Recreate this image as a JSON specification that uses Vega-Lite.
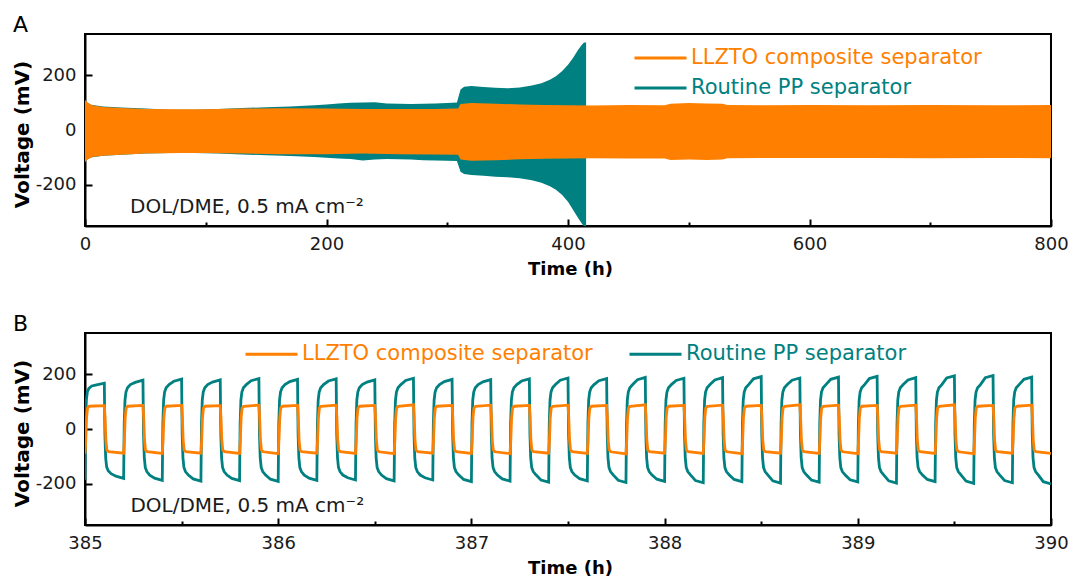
{
"$schema": "https://vega.github.io/schema/vega-lite/v6.json",
"background": "white",
"padding": {"left": 11, "top": 13, "right": 20, "bottom": 5},
"config": {
  "font": "DejaVu Sans",
  "view": {"stroke": "black", "strokeWidth": 2},
  "axis": {"grid": false, "domainColor": "black", "domainWidth": 2, "tickColor": "black", "tickWidth": 2, "labelFont": "DejaVu Sans", "labelFontSize": 18, "labelColor": "#1a1a1a", "titleFont": "DejaVu Sans", "titleFontSize": 18, "titleFontWeight": "bold", "titleColor": "black", "labelFlush": false, "labelOverlap": false, "zindex": 1}
},
"datasets": {
  "aP": [{"t":0,"hi":105,"lo":-112},{"t":5,"hi":92,"lo":-100},{"t":15,"hi":86,"lo":-94},{"t":30,"hi":82,"lo":-90},{"t":50,"hi":78,"lo":-86},{"t":70,"hi":74,"lo":-84},{"t":90,"hi":74,"lo":-84},{"t":110,"hi":77,"lo":-86},{"t":130,"hi":80,"lo":-89},{"t":150,"hi":83,"lo":-92},{"t":170,"hi":86,"lo":-95},{"t":190,"hi":90,"lo":-98},{"t":200,"hi":93,"lo":-101},{"t":210,"hi":97,"lo":-104},{"t":220,"hi":99,"lo":-106},{"t":230,"hi":100,"lo":-111},{"t":240,"hi":101,"lo":-108},{"t":250,"hi":97,"lo":-106},{"t":260,"hi":96,"lo":-107},{"t":270,"hi":95,"lo":-108},{"t":280,"hi":96,"lo":-110},{"t":290,"hi":97,"lo":-111},{"t":300,"hi":98,"lo":-112},{"t":308,"hi":100,"lo":-113},{"t":311,"hi":148,"lo":-152},{"t":314,"hi":158,"lo":-160},{"t":320,"hi":160,"lo":-164},{"t":330,"hi":157,"lo":-167},{"t":340,"hi":154,"lo":-170},{"t":350,"hi":152,"lo":-172},{"t":360,"hi":155,"lo":-176},{"t":370,"hi":162,"lo":-183},{"t":378,"hi":170,"lo":-192},{"t":385,"hi":183,"lo":-205},{"t":390,"hi":196,"lo":-218},{"t":395,"hi":214,"lo":-236},{"t":400,"hi":238,"lo":-262},{"t":404,"hi":262,"lo":-290},{"t":408,"hi":290,"lo":-318},{"t":411,"hi":308,"lo":-338},{"t":413,"hi":318,"lo":-350},{"t":415,"hi":320,"lo":-350}],
  "aL": [{"t":0,"hi":110,"lo":-118},{"t":2,"hi":100,"lo":-108},{"t":6,"hi":90,"lo":-98},{"t":15,"hi":84,"lo":-94},{"t":30,"hi":80,"lo":-90},{"t":50,"hi":77,"lo":-86},{"t":80,"hi":76,"lo":-84},{"t":100,"hi":76,"lo":-84},{"t":130,"hi":78,"lo":-86},{"t":160,"hi":79,"lo":-88},{"t":200,"hi":78,"lo":-88},{"t":230,"hi":77,"lo":-86},{"t":260,"hi":77,"lo":-88},{"t":290,"hi":77,"lo":-89},{"t":309,"hi":78,"lo":-90},{"t":311,"hi":95,"lo":-108},{"t":320,"hi":98,"lo":-112},{"t":340,"hi":96,"lo":-110},{"t":360,"hi":93,"lo":-107},{"t":380,"hi":91,"lo":-105},{"t":400,"hi":90,"lo":-104},{"t":420,"hi":89,"lo":-103},{"t":450,"hi":91,"lo":-104},{"t":480,"hi":90,"lo":-104},{"t":485,"hi":96,"lo":-109},{"t":500,"hi":98,"lo":-108},{"t":515,"hi":97,"lo":-109},{"t":528,"hi":96,"lo":-108},{"t":532,"hi":91,"lo":-103},{"t":560,"hi":90,"lo":-102},{"t":600,"hi":91,"lo":-102},{"t":650,"hi":90,"lo":-102},{"t":700,"hi":91,"lo":-103},{"t":750,"hi":90,"lo":-102},{"t":800,"hi":91,"lo":-103}],
  "bP": [
{"t":385,"v":-185},{"t":385.003,"v":20},{"t":385.007,"v":105},{"t":385.012,"v":135},{"t":385.02,"v":148},{"t":385.035,"v":157},{"t":385.06,"v":161},{"t":385.1,"v":167},{"t":385.103,"v":-20},{"t":385.107,"v":-105},{"t":385.112,"v":-138},{"t":385.12,"v":-152},{"t":385.135,"v":-163},{"t":385.16,"v":-172},
{"t":385.2,"v":-180},{"t":385.203,"v":20},{"t":385.207,"v":105},{"t":385.212,"v":135},{"t":385.22,"v":150},{"t":385.235,"v":162},{"t":385.26,"v":170},{"t":385.3,"v":178},{"t":385.303,"v":-20},{"t":385.307,"v":-105},{"t":385.312,"v":-140},{"t":385.32,"v":-155},{"t":385.335,"v":-168},{"t":385.36,"v":-179},
{"t":385.4,"v":-187},{"t":385.403,"v":20},{"t":385.407,"v":105},{"t":385.412,"v":135},{"t":385.42,"v":150},{"t":385.435,"v":162},{"t":385.46,"v":174},{"t":385.5,"v":182},{"t":385.503,"v":-20},{"t":385.507,"v":-105},{"t":385.512,"v":-140},{"t":385.52,"v":-155},{"t":385.535,"v":-168},{"t":385.56,"v":-182},
{"t":385.6,"v":-190},{"t":385.603,"v":20},{"t":385.607,"v":105},{"t":385.612,"v":135},{"t":385.62,"v":150},{"t":385.635,"v":162},{"t":385.66,"v":171},{"t":385.7,"v":179},{"t":385.703,"v":-20},{"t":385.707,"v":-105},{"t":385.712,"v":-140},{"t":385.72,"v":-155},{"t":385.735,"v":-168},{"t":385.76,"v":-180},
{"t":385.8,"v":-188},{"t":385.803,"v":20},{"t":385.807,"v":105},{"t":385.812,"v":135},{"t":385.82,"v":150},{"t":385.835,"v":162},{"t":385.86,"v":176},{"t":385.9,"v":184},{"t":385.903,"v":-20},{"t":385.907,"v":-105},{"t":385.912,"v":-140},{"t":385.92,"v":-155},{"t":385.935,"v":-168},{"t":385.96,"v":-183},
{"t":386,"v":-191},{"t":386.003,"v":20},{"t":386.007,"v":105},{"t":386.012,"v":135},{"t":386.02,"v":150},{"t":386.035,"v":162},{"t":386.06,"v":173},{"t":386.1,"v":181},{"t":386.103,"v":-20},{"t":386.107,"v":-105},{"t":386.112,"v":-140},{"t":386.12,"v":-155},{"t":386.135,"v":-168},{"t":386.16,"v":-179},
{"t":386.2,"v":-187},{"t":386.203,"v":20},{"t":386.207,"v":105},{"t":386.212,"v":135},{"t":386.22,"v":150},{"t":386.235,"v":162},{"t":386.26,"v":175},{"t":386.3,"v":183},{"t":386.303,"v":-20},{"t":386.307,"v":-105},{"t":386.312,"v":-140},{"t":386.32,"v":-155},{"t":386.335,"v":-168},{"t":386.36,"v":-178},
{"t":386.4,"v":-186},{"t":386.403,"v":20},{"t":386.407,"v":105},{"t":386.412,"v":135},{"t":386.42,"v":150},{"t":386.435,"v":162},{"t":386.46,"v":171},{"t":386.5,"v":179},{"t":386.503,"v":-20},{"t":386.507,"v":-105},{"t":386.512,"v":-140},{"t":386.52,"v":-155},{"t":386.535,"v":-168},{"t":386.56,"v":-181},
{"t":386.6,"v":-189},{"t":386.603,"v":20},{"t":386.607,"v":105},{"t":386.612,"v":135},{"t":386.62,"v":150},{"t":386.635,"v":162},{"t":386.66,"v":177},{"t":386.7,"v":185},{"t":386.703,"v":-20},{"t":386.707,"v":-105},{"t":386.712,"v":-140},{"t":386.72,"v":-155},{"t":386.735,"v":-168},{"t":386.76,"v":-178},
{"t":386.8,"v":-186},{"t":386.803,"v":20},{"t":386.807,"v":105},{"t":386.812,"v":135},{"t":386.82,"v":150},{"t":386.835,"v":162},{"t":386.86,"v":173},{"t":386.9,"v":181},{"t":386.903,"v":-20},{"t":386.907,"v":-105},{"t":386.912,"v":-140},{"t":386.92,"v":-155},{"t":386.935,"v":-168},{"t":386.96,"v":-184},
{"t":387,"v":-192},{"t":387.003,"v":20},{"t":387.007,"v":105},{"t":387.012,"v":135},{"t":387.02,"v":150},{"t":387.035,"v":162},{"t":387.06,"v":172},{"t":387.1,"v":180},{"t":387.103,"v":-20},{"t":387.107,"v":-105},{"t":387.112,"v":-140},{"t":387.12,"v":-155},{"t":387.135,"v":-168},{"t":387.16,"v":-182},
{"t":387.2,"v":-190},{"t":387.203,"v":20},{"t":387.207,"v":105},{"t":387.212,"v":135},{"t":387.22,"v":150},{"t":387.235,"v":162},{"t":387.26,"v":175},{"t":387.3,"v":183},{"t":387.303,"v":-20},{"t":387.307,"v":-105},{"t":387.312,"v":-140},{"t":387.32,"v":-155},{"t":387.335,"v":-168},{"t":387.36,"v":-186},
{"t":387.4,"v":-194},{"t":387.403,"v":20},{"t":387.407,"v":105},{"t":387.412,"v":135},{"t":387.42,"v":150},{"t":387.435,"v":162},{"t":387.46,"v":178},{"t":387.5,"v":186},{"t":387.503,"v":-20},{"t":387.507,"v":-105},{"t":387.512,"v":-140},{"t":387.52,"v":-155},{"t":387.535,"v":-168},{"t":387.56,"v":-181},
{"t":387.6,"v":-189},{"t":387.603,"v":20},{"t":387.607,"v":105},{"t":387.612,"v":135},{"t":387.62,"v":150},{"t":387.635,"v":162},{"t":387.66,"v":176},{"t":387.7,"v":184},{"t":387.703,"v":-20},{"t":387.707,"v":-105},{"t":387.712,"v":-140},{"t":387.72,"v":-155},{"t":387.735,"v":-168},{"t":387.76,"v":-187},
{"t":387.8,"v":-195},{"t":387.803,"v":20},{"t":387.807,"v":105},{"t":387.812,"v":135},{"t":387.82,"v":150},{"t":387.835,"v":162},{"t":387.86,"v":180},{"t":387.9,"v":188},{"t":387.903,"v":-20},{"t":387.907,"v":-105},{"t":387.912,"v":-140},{"t":387.92,"v":-155},{"t":387.935,"v":-168},{"t":387.96,"v":-183},
{"t":388,"v":-191},{"t":388.003,"v":20},{"t":388.007,"v":105},{"t":388.012,"v":135},{"t":388.02,"v":150},{"t":388.035,"v":162},{"t":388.06,"v":177},{"t":388.1,"v":185},{"t":388.103,"v":-20},{"t":388.107,"v":-105},{"t":388.112,"v":-140},{"t":388.12,"v":-155},{"t":388.135,"v":-168},{"t":388.16,"v":-188},
{"t":388.2,"v":-196},{"t":388.203,"v":20},{"t":388.207,"v":105},{"t":388.212,"v":135},{"t":388.22,"v":150},{"t":388.235,"v":162},{"t":388.26,"v":179},{"t":388.3,"v":187},{"t":388.303,"v":-20},{"t":388.307,"v":-105},{"t":388.312,"v":-140},{"t":388.32,"v":-155},{"t":388.335,"v":-168},{"t":388.36,"v":-184},
{"t":388.4,"v":-192},{"t":388.403,"v":20},{"t":388.407,"v":105},{"t":388.412,"v":135},{"t":388.42,"v":150},{"t":388.435,"v":162},{"t":388.46,"v":183},{"t":388.5,"v":191},{"t":388.503,"v":-20},{"t":388.507,"v":-105},{"t":388.512,"v":-140},{"t":388.52,"v":-155},{"t":388.535,"v":-168},{"t":388.56,"v":-189},
{"t":388.6,"v":-197},{"t":388.603,"v":20},{"t":388.607,"v":105},{"t":388.612,"v":135},{"t":388.62,"v":150},{"t":388.635,"v":162},{"t":388.66,"v":178},{"t":388.7,"v":186},{"t":388.703,"v":-20},{"t":388.707,"v":-105},{"t":388.712,"v":-140},{"t":388.72,"v":-155},{"t":388.735,"v":-168},{"t":388.76,"v":-186},
{"t":388.8,"v":-194},{"t":388.803,"v":20},{"t":388.807,"v":105},{"t":388.812,"v":135},{"t":388.82,"v":150},{"t":388.835,"v":162},{"t":388.86,"v":181},{"t":388.9,"v":189},{"t":388.903,"v":-20},{"t":388.907,"v":-105},{"t":388.912,"v":-140},{"t":388.92,"v":-155},{"t":388.935,"v":-168},{"t":388.96,"v":-185},
{"t":389,"v":-193},{"t":389.003,"v":20},{"t":389.007,"v":105},{"t":389.012,"v":135},{"t":389.02,"v":150},{"t":389.035,"v":162},{"t":389.06,"v":184},{"t":389.1,"v":192},{"t":389.103,"v":-20},{"t":389.107,"v":-105},{"t":389.112,"v":-140},{"t":389.12,"v":-155},{"t":389.135,"v":-168},{"t":389.16,"v":-189},
{"t":389.2,"v":-197},{"t":389.203,"v":20},{"t":389.207,"v":105},{"t":389.212,"v":135},{"t":389.22,"v":150},{"t":389.235,"v":162},{"t":389.26,"v":179},{"t":389.3,"v":187},{"t":389.303,"v":-20},{"t":389.307,"v":-105},{"t":389.312,"v":-140},{"t":389.32,"v":-155},{"t":389.335,"v":-168},{"t":389.36,"v":-184},
{"t":389.4,"v":-192},{"t":389.403,"v":20},{"t":389.407,"v":105},{"t":389.412,"v":135},{"t":389.42,"v":150},{"t":389.435,"v":162},{"t":389.46,"v":186},{"t":389.5,"v":194},{"t":389.503,"v":-20},{"t":389.507,"v":-105},{"t":389.512,"v":-140},{"t":389.52,"v":-155},{"t":389.535,"v":-168},{"t":389.56,"v":-190},
{"t":389.6,"v":-198},{"t":389.603,"v":20},{"t":389.607,"v":105},{"t":389.612,"v":135},{"t":389.62,"v":150},{"t":389.635,"v":162},{"t":389.66,"v":187},{"t":389.7,"v":195},{"t":389.703,"v":-20},{"t":389.707,"v":-105},{"t":389.712,"v":-140},{"t":389.72,"v":-155},{"t":389.735,"v":-168},{"t":389.76,"v":-188},
{"t":389.8,"v":-196},{"t":389.803,"v":20},{"t":389.807,"v":105},{"t":389.812,"v":135},{"t":389.82,"v":150},{"t":389.835,"v":162},{"t":389.86,"v":181},{"t":389.9,"v":189},{"t":389.903,"v":-20},{"t":389.907,"v":-105},{"t":389.912,"v":-140},{"t":389.92,"v":-155},{"t":389.935,"v":-168},{"t":389.96,"v":-192},
{"t":390,"v":-200}],
  "bL": [
{"t":385,"v":-90},{"t":385.004,"v":-40},{"t":385.008,"v":40},{"t":385.013,"v":76},{"t":385.022,"v":83},{"t":385.1,"v":85},{"t":385.104,"v":40},{"t":385.108,"v":-40},{"t":385.113,"v":-76},{"t":385.122,"v":-83},
{"t":385.2,"v":-88},{"t":385.204,"v":-40},{"t":385.208,"v":40},{"t":385.213,"v":76},{"t":385.222,"v":83},{"t":385.3,"v":86},{"t":385.304,"v":40},{"t":385.308,"v":-40},{"t":385.313,"v":-76},{"t":385.322,"v":-83},
{"t":385.4,"v":-89},{"t":385.404,"v":-40},{"t":385.408,"v":40},{"t":385.413,"v":76},{"t":385.422,"v":83},{"t":385.5,"v":86},{"t":385.504,"v":40},{"t":385.508,"v":-40},{"t":385.513,"v":-76},{"t":385.522,"v":-83},
{"t":385.6,"v":-88},{"t":385.604,"v":-40},{"t":385.608,"v":40},{"t":385.613,"v":76},{"t":385.622,"v":83},{"t":385.7,"v":85},{"t":385.704,"v":40},{"t":385.708,"v":-40},{"t":385.713,"v":-76},{"t":385.722,"v":-83},
{"t":385.8,"v":-89},{"t":385.804,"v":-40},{"t":385.808,"v":40},{"t":385.813,"v":76},{"t":385.822,"v":83},{"t":385.9,"v":87},{"t":385.904,"v":40},{"t":385.908,"v":-40},{"t":385.913,"v":-76},{"t":385.922,"v":-83},
{"t":386,"v":-90},{"t":386.004,"v":-40},{"t":386.008,"v":40},{"t":386.013,"v":76},{"t":386.022,"v":83},{"t":386.1,"v":86},{"t":386.104,"v":40},{"t":386.108,"v":-40},{"t":386.113,"v":-76},{"t":386.122,"v":-83},
{"t":386.2,"v":-88},{"t":386.204,"v":-40},{"t":386.208,"v":40},{"t":386.213,"v":76},{"t":386.222,"v":83},{"t":386.3,"v":87},{"t":386.304,"v":40},{"t":386.308,"v":-40},{"t":386.313,"v":-76},{"t":386.322,"v":-83},
{"t":386.4,"v":-89},{"t":386.404,"v":-40},{"t":386.408,"v":40},{"t":386.413,"v":76},{"t":386.422,"v":83},{"t":386.5,"v":86},{"t":386.504,"v":40},{"t":386.508,"v":-40},{"t":386.513,"v":-76},{"t":386.522,"v":-83},
{"t":386.6,"v":-90},{"t":386.604,"v":-40},{"t":386.608,"v":40},{"t":386.613,"v":76},{"t":386.622,"v":83},{"t":386.7,"v":88},{"t":386.704,"v":40},{"t":386.708,"v":-40},{"t":386.713,"v":-76},{"t":386.722,"v":-83},
{"t":386.8,"v":-88},{"t":386.804,"v":-40},{"t":386.808,"v":40},{"t":386.813,"v":76},{"t":386.822,"v":83},{"t":386.9,"v":86},{"t":386.904,"v":40},{"t":386.908,"v":-40},{"t":386.913,"v":-76},{"t":386.922,"v":-83},
{"t":387,"v":-89},{"t":387.004,"v":-40},{"t":387.008,"v":40},{"t":387.013,"v":76},{"t":387.022,"v":83},{"t":387.1,"v":87},{"t":387.104,"v":40},{"t":387.108,"v":-40},{"t":387.113,"v":-76},{"t":387.122,"v":-83},
{"t":387.2,"v":-90},{"t":387.204,"v":-40},{"t":387.208,"v":40},{"t":387.213,"v":76},{"t":387.222,"v":83},{"t":387.3,"v":86},{"t":387.304,"v":40},{"t":387.308,"v":-40},{"t":387.313,"v":-76},{"t":387.322,"v":-83},
{"t":387.4,"v":-88},{"t":387.404,"v":-40},{"t":387.408,"v":40},{"t":387.413,"v":76},{"t":387.422,"v":83},{"t":387.5,"v":87},{"t":387.504,"v":40},{"t":387.508,"v":-40},{"t":387.513,"v":-76},{"t":387.522,"v":-83},
{"t":387.6,"v":-89},{"t":387.604,"v":-40},{"t":387.608,"v":40},{"t":387.613,"v":76},{"t":387.622,"v":83},{"t":387.7,"v":86},{"t":387.704,"v":40},{"t":387.708,"v":-40},{"t":387.713,"v":-76},{"t":387.722,"v":-83},
{"t":387.8,"v":-91},{"t":387.804,"v":-40},{"t":387.808,"v":40},{"t":387.813,"v":76},{"t":387.822,"v":83},{"t":387.9,"v":88},{"t":387.904,"v":40},{"t":387.908,"v":-40},{"t":387.913,"v":-76},{"t":387.922,"v":-83},
{"t":388,"v":-88},{"t":388.004,"v":-40},{"t":388.008,"v":40},{"t":388.013,"v":76},{"t":388.022,"v":83},{"t":388.1,"v":86},{"t":388.104,"v":40},{"t":388.108,"v":-40},{"t":388.113,"v":-76},{"t":388.122,"v":-83},
{"t":388.2,"v":-89},{"t":388.204,"v":-40},{"t":388.208,"v":40},{"t":388.213,"v":76},{"t":388.222,"v":83},{"t":388.3,"v":87},{"t":388.304,"v":40},{"t":388.308,"v":-40},{"t":388.313,"v":-76},{"t":388.322,"v":-83},
{"t":388.4,"v":-90},{"t":388.404,"v":-40},{"t":388.408,"v":40},{"t":388.413,"v":76},{"t":388.422,"v":83},{"t":388.5,"v":86},{"t":388.504,"v":40},{"t":388.508,"v":-40},{"t":388.513,"v":-76},{"t":388.522,"v":-83},
{"t":388.6,"v":-88},{"t":388.604,"v":-40},{"t":388.608,"v":40},{"t":388.613,"v":76},{"t":388.622,"v":83},{"t":388.7,"v":88},{"t":388.704,"v":40},{"t":388.708,"v":-40},{"t":388.713,"v":-76},{"t":388.722,"v":-83},
{"t":388.8,"v":-89},{"t":388.804,"v":-40},{"t":388.808,"v":40},{"t":388.813,"v":76},{"t":388.822,"v":83},{"t":388.9,"v":87},{"t":388.904,"v":40},{"t":388.908,"v":-40},{"t":388.913,"v":-76},{"t":388.922,"v":-83},
{"t":389,"v":-90},{"t":389.004,"v":-40},{"t":389.008,"v":40},{"t":389.013,"v":76},{"t":389.022,"v":83},{"t":389.1,"v":86},{"t":389.104,"v":40},{"t":389.108,"v":-40},{"t":389.113,"v":-76},{"t":389.122,"v":-83},
{"t":389.2,"v":-88},{"t":389.204,"v":-40},{"t":389.208,"v":40},{"t":389.213,"v":76},{"t":389.222,"v":83},{"t":389.3,"v":87},{"t":389.304,"v":40},{"t":389.308,"v":-40},{"t":389.313,"v":-76},{"t":389.322,"v":-83},
{"t":389.4,"v":-89},{"t":389.404,"v":-40},{"t":389.408,"v":40},{"t":389.413,"v":76},{"t":389.422,"v":83},{"t":389.5,"v":88},{"t":389.504,"v":40},{"t":389.508,"v":-40},{"t":389.513,"v":-76},{"t":389.522,"v":-83},
{"t":389.6,"v":-90},{"t":389.604,"v":-40},{"t":389.608,"v":40},{"t":389.613,"v":76},{"t":389.622,"v":83},{"t":389.7,"v":86},{"t":389.704,"v":40},{"t":389.708,"v":-40},{"t":389.713,"v":-76},{"t":389.722,"v":-83},
{"t":389.8,"v":-88},{"t":389.804,"v":-40},{"t":389.808,"v":40},{"t":389.813,"v":76},{"t":389.822,"v":83},{"t":389.9,"v":87},{"t":389.904,"v":40},{"t":389.908,"v":-40},{"t":389.913,"v":-76},{"t":389.922,"v":-83},
{"t":390,"v":-89}]
},
"bounds": "flush",
"spacing": 107,
"resolve": {"scale": {"x": "independent", "y": "independent", "color": "independent"}, "legend": {"color": "independent"}},
"vconcat": [
 {
  "width": 966, "height": 192,
  "title": {"text": "A", "anchor": "start", "frame": "group", "dx": -72, "offset": -20, "baseline": "alphabetic", "fontSize": 22, "fontWeight": "normal", "font": "DejaVu Sans", "color": "black"},
  "layer": [
   {"data": {"name": "aP"}, "mark": {"type": "area", "opacity": 1, "clip": true},
    "encoding": {
     "x": {"field": "t", "type": "quantitative", "scale": {"domain": [0, 800], "nice": false, "zero": false},
       "axis": {"values": [0,100,200,300,400,500,600,700,800], "labelExpr": "datum.value % 200 == 0 ? '' + datum.value : ''", "tickSize": {"condition": {"test": "datum.value % 200 != 0", "value": -4}, "value": -7}, "labelPadding": 16, "title": "Time (h)", "titleX": 485, "titleY": 48, "titleBaseline": "alphabetic"}},
     "y": {"field": "hi", "type": "quantitative", "scale": {"domain": [-350, 350], "nice": false, "zero": false},
       "axis": {"values": [-200, 0, 200], "format": "d", "labelExpr": "replace(datum.label, '−', '-')", "tickSize": -7, "labelPadding": 16, "title": "Voltage (mV)", "titleFontSize": 20, "titleX": -57, "titleY": 100, "titleBaseline": "alphabetic", "titleAngle": 270}},
     "y2": {"field": "lo"},
     "color": {"datum": "P", "type": "nominal", "scale": {"domain": ["L", "P"], "range": ["#FF8000", "#008080"]},
       "legend": {"orient": "none", "legendX": 565, "legendY": 13.5, "direction": "vertical", "title": null, "padding": 0, "symbolType": "M-5.2,0H5.2", "symbolSize": 100, "symbolStrokeWidth": 3, "symbolStrokeColor": {"expr": "datum.value == 'L' ? '#FF8000' : '#008080'"}, "labelFont": "DejaVu Sans", "labelFontSize": 21, "labelOffset": 20, "labelLimit": 500, "rowPadding": 8, "labelExpr": "datum.value == 'L' ? 'LLZTO composite separator' : 'Routine PP separator'", "labelColor": {"expr": "datum.value == 'L' ? '#FF8000' : '#008080'"}}}
    }},
   {"data": {"name": "aL"}, "mark": {"type": "area", "opacity": 1, "clip": true},
    "encoding": {
     "x": {"field": "t", "type": "quantitative"},
     "y": {"field": "hi", "type": "quantitative"},
     "y2": {"field": "lo"},
     "color": {"datum": "L", "type": "nominal"}
    }},
   {"data": {"values": [{}]}, "mark": {"type": "text", "align": "left", "baseline": "alphabetic", "font": "DejaVu Sans", "fontSize": 20, "color": "#1a1a1a"},
    "encoding": {"x": {"datum": 37.3, "type": "quantitative"}, "y": {"datum": -303, "type": "quantitative"}, "text": {"value": "DOL/DME, 0.5 mA cm⁻²"}}}
  ]
 },
 {
  "width": 966, "height": 192,
  "title": {"text": "B", "anchor": "start", "frame": "group", "dx": -72, "offset": -20, "baseline": "alphabetic", "fontSize": 22, "fontWeight": "normal", "font": "DejaVu Sans", "color": "black"},
  "layer": [
   {"data": {"name": "bP"}, "mark": {"type": "line", "strokeWidth": 2.8, "clip": true},
    "encoding": {
     "x": {"field": "t", "type": "quantitative", "scale": {"domain": [385, 390], "nice": false, "zero": false},
       "axis": {"values": [385,385.5,386,386.5,387,387.5,388,388.5,389,389.5,390], "labelExpr": "datum.value % 1 == 0 ? '' + datum.value : ''", "tickSize": {"condition": {"test": "datum.value % 1 != 0", "value": -4}, "value": -7}, "labelPadding": 16, "title": "Time (h)", "titleX": 485, "titleY": 48, "titleBaseline": "alphabetic"}},
     "y": {"field": "v", "type": "quantitative", "scale": {"domain": [-350, 350], "nice": false, "zero": false},
       "axis": {"values": [-200, 0, 200], "format": "d", "labelExpr": "replace(datum.label, '−', '-')", "tickSize": -7, "labelPadding": 16, "title": "Voltage (mV)", "titleFontSize": 20, "titleX": -57, "titleY": 100, "titleBaseline": "alphabetic", "titleAngle": 270}},
     "color": {"datum": "P", "type": "nominal", "scale": {"domain": ["L", "P"], "range": ["#FF8000", "#008080"]},
       "legend": {"orient": "none", "legendX": 176, "legendY": 10.5, "direction": "horizontal", "title": null, "padding": 0, "symbolType": "M-5.2,0H5.2", "symbolSize": 100, "symbolStrokeWidth": 3, "symbolStrokeColor": {"expr": "datum.value == 'L' ? '#FF8000' : '#008080'"}, "labelFont": "DejaVu Sans", "labelFontSize": 21, "labelOffset": 20, "labelLimit": 500, "columnPadding": 30, "labelExpr": "datum.value == 'L' ? 'LLZTO composite separator' : 'Routine PP separator'", "labelColor": {"expr": "datum.value == 'L' ? '#FF8000' : '#008080'"}}}
    }},
   {"data": {"name": "bL"}, "mark": {"type": "line", "strokeWidth": 2.8, "clip": true},
    "encoding": {
     "x": {"field": "t", "type": "quantitative"},
     "y": {"field": "v", "type": "quantitative"},
     "color": {"datum": "L", "type": "nominal"}
    }},
   {"data": {"values": [{}]}, "mark": {"type": "text", "align": "left", "baseline": "alphabetic", "font": "DejaVu Sans", "fontSize": 20, "color": "#1a1a1a"},
    "encoding": {"x": {"datum": 385.235, "type": "quantitative"}, "y": {"datum": -303, "type": "quantitative"}, "text": {"value": "DOL/DME, 0.5 mA cm⁻²"}}}
  ]
 }
]
}
